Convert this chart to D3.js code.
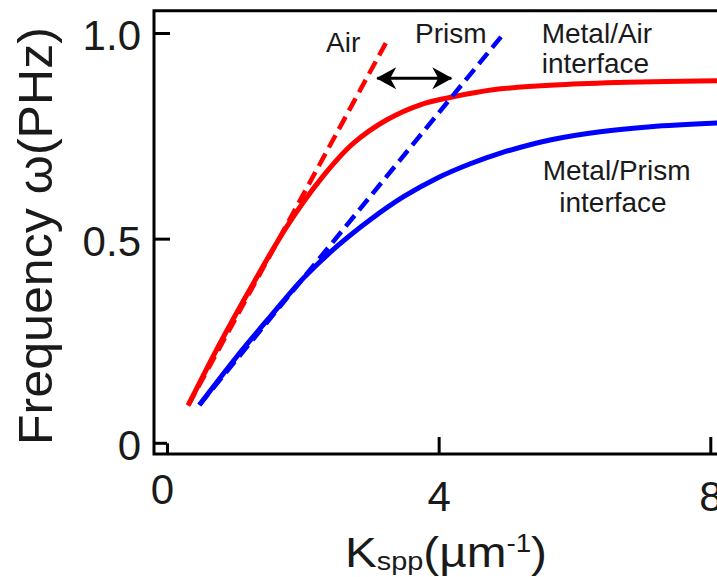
<!DOCTYPE html>
<html>
<head>
<meta charset="utf-8">
<script src="https://cdn.jsdelivr.net/npm/d3@7/dist/d3.min.js"></script>
<style>
  html, body { margin: 0; padding: 0; background: #fff; }
  svg { display: block; }
  text { font-family: "Liberation Sans", Arial, Helvetica, sans-serif; fill: #1a1a1a; }
</style>
</head>
<body>
<svg id="chart" width="717" height="577"></svg>
<script>
// ---- data ----
const xTicks = [0, 4, 8];
const xTickLabels = ["0", "4", "8"];
const yTicks = [0, 0.5, 1];
const yTickLabels = ["0", "0.5", "1.0"];

// Metal/Air SPP dispersion (k in µm^-1, ω in PHz)
const airK = [0.314, 0.781, 1.272, 1.764, 2.255, 2.746, 3.238, 3.729, 4.22, 4.80, 5.79, 6.78, 8.11];
const airW = [0.0956, 0.2457, 0.3917, 0.5294, 0.643, 0.732, 0.789, 0.8255, 0.845, 0.862, 0.874, 0.880, 0.884];

// Metal/Prism SPP dispersion
const prismK = [0.476, 1.027, 1.518, 2.009, 2.501, 2.992, 3.483, 3.975, 4.466, 4.91, 5.64, 6.38, 7.12, 8.11];
const prismW = [0.0956, 0.213, 0.310, 0.404, 0.481, 0.546, 0.602, 0.647, 0.682, 0.708, 0.740, 0.760, 0.772, 0.781];

// Light lines
const airLightK = [0.31, 3.24];
const airLightW = [0.094, 0.981];
const prismLightK = [0.476, 4.93];
const prismLightW = [0.0956, 0.993];

// Double arrow between light lines (k range at ω)
const arrowK = [3.066, 4.215];
const arrowW = 0.890;

const xLabelMain = "K", xLabelSub = "spp", xLabelOpen = "(µm", xLabelSup = "-1", xLabelClose = ")";
const yLabel = "Frequency ω(PHz)";

// ---- layout ----
const svg = d3.select("#chart");
const x = d3.scaleLinear().domain([0, 8]).range([167, 710.3]);
const y = d3.scaleLinear().domain([0, 1]).range([444.3, 33]);
const frameLeft = 154, frameTop = 10.7, frameBottom = 454;

const RED = "#ff0000", BLUE = "#0000ff";

// curves
const zip = (a, b) => a.map((v, i) => [v, b[i]]);
const curveLine = d3.line().x(d => x(d[0])).y(d => y(d[1])).curve(d3.curveCatmullRom.alpha(0.5));
const straight = d3.line().x(d => x(d[0])).y(d => y(d[1]));

const plot = svg.append("g");
plot.append("path").attr("d", curveLine(zip(airK, airW)))
  .attr("fill", "none").attr("stroke", RED).attr("stroke-width", 5);
plot.append("path").attr("d", curveLine(zip(prismK, prismW)))
  .attr("fill", "none").attr("stroke", BLUE).attr("stroke-width", 5);
plot.append("path").attr("d", straight(zip(airLightK, airLightW)))
  .attr("fill", "none").attr("stroke", RED).attr("stroke-width", 4.5)
  .attr("stroke-dasharray", "14,7");
plot.append("path").attr("d", straight(zip(prismLightK, prismLightW)))
  .attr("fill", "none").attr("stroke", BLUE).attr("stroke-width", 4.5)
  .attr("stroke-dasharray", "14,7");

// arrow
const defs = svg.append("defs");
["start", "end"].forEach(k => {
  defs.append("marker").attr("id", "ah-" + k)
    .attr("viewBox", "-22 -12 24 24").attr("refX", 0).attr("refY", 0)
    .attr("markerWidth", 24).attr("markerHeight", 24)
    .attr("markerUnits", "userSpaceOnUse")
    .attr("orient", k === "end" ? "auto" : "auto-start-reverse")
    .append("path").attr("d", "M1,0 L-19,-11 L-13,0 L-19,11 Z").attr("fill", "#000");
});
svg.append("line")
  .attr("x1", x(arrowK[0]) + 2).attr("x2", x(arrowK[1]) - 2)
  .attr("y1", y(arrowW)).attr("y2", y(arrowW))
  .attr("stroke", "#000").attr("stroke-width", 3)
  .attr("marker-start", "url(#ah-start)").attr("marker-end", "url(#ah-end)");

// frame
svg.append("path")
  .attr("d", `M760,${frameTop} L${frameLeft},${frameTop} L${frameLeft},${frameBottom} L760,${frameBottom}`)
  .attr("fill", "none").attr("stroke", "#000").attr("stroke-width", 3);

// y axis
const yAxis = svg.append("g").attr("transform", `translate(${frameLeft},0)`)
  .call(d3.axisLeft(y).tickValues(yTicks).tickFormat((d, i) => yTickLabels[i])
    .tickSizeInner(-16).tickSizeOuter(0).tickPadding(13));
yAxis.select(".domain").remove();
yAxis.selectAll(".tick line").attr("stroke", "#000").attr("stroke-width", 3)
  .attr("x2", d => d === 0 ? (x(0) - frameLeft) : 16);
yAxis.selectAll(".tick text").attr("font-size", 42).attr("dy", "0.4em")
  .attr("font-family", "Liberation Sans, Arial, sans-serif").attr("fill", "#1a1a1a");
yAxis.selectAll(".tick").filter(d => d === 0).attr("transform", `translate(0,${y(0) - 1})`);

// x axis
const xAxis = svg.append("g").attr("transform", `translate(0,${frameBottom})`)
  .call(d3.axisBottom(x).tickValues(xTicks).tickFormat((d, i) => xTickLabels[i])
    .tickSizeInner(-17).tickSizeOuter(0).tickPadding(0));
xAxis.select(".domain").remove();
xAxis.selectAll(".tick line").attr("stroke", "#000").attr("stroke-width", 3)
  .attr("y2", d => d === 0 ? -(frameBottom - y(0) + 1) : -17);
xAxis.selectAll(".tick text").attr("font-size", 42).attr("dy", 0)
  .attr("font-family", "Liberation Sans, Arial, sans-serif").attr("fill", "#1a1a1a")
  .attr("y", d => d === 0 ? 50 : 57)
  .attr("x", d => d === 0 ? -5 : 0);

// y label
svg.append("text")
  .attr("transform", "translate(52,236) rotate(-90)")
  .attr("text-anchor", "middle").attr("font-size", 48)
  .attr("textLength", 418).attr("lengthAdjust", "spacingAndGlyphs")
  .text(yLabel);

// x label
const xl = svg.append("g");
const xt = xl.append("text").attr("x", 0).attr("y", 0).attr("font-size", 43);
xt.append("tspan").text(xLabelMain);
xt.append("tspan").attr("font-size", 26).attr("dy", 3).text(xLabelSub);
xt.append("tspan").attr("font-size", 43).attr("dy", -3).text(xLabelOpen);
xt.append("tspan").attr("font-size", 25).attr("dy", -15).text(xLabelSup);
xt.append("tspan").attr("font-size", 43).attr("dy", 15).text(xLabelClose);
const bb = xt.node().getBBox();
const targetW = 547 - 345;
const sx = targetW / bb.width;
xl.attr("transform", `translate(${345 - bb.x * sx},567) scale(${sx},1)`);

// annotations
const ann = [
  { t: "Air", x: 326, y: 52.3 },
  { t: "Prism", x: 415, y: 43.3 },
  { t: "Metal/Air", x: 541.7, y: 43.3 },
  { t: "interface", x: 541.7, y: 73.3 },
  { t: "Metal/Prism", x: 542.7, y: 180 },
  { t: "interface", x: 559.3, y: 211.7 }
];
svg.selectAll("text.ann").data(ann).enter().append("text").attr("class", "ann")
  .attr("x", d => d.x).attr("y", d => d.y).attr("font-size", 28).text(d => d.t);
</script>
</body>
</html>
